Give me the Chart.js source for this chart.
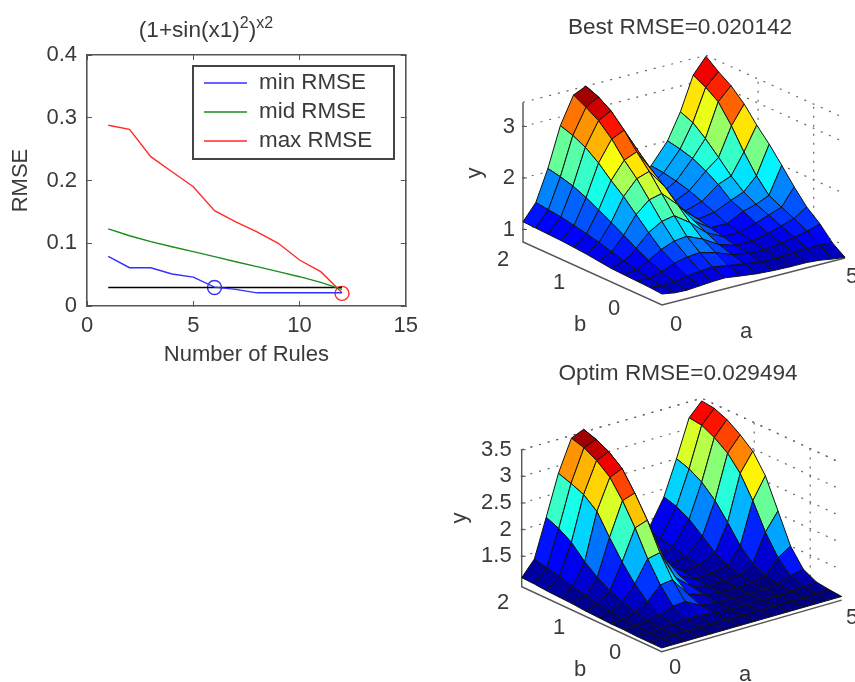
<!DOCTYPE html>
<html>
<head>
<meta charset="utf-8">
<title>RMSE surfaces</title>
<script src="https://cdn.jsdelivr.net/npm/chart.js@4"></script>
<style>
  html, body { margin: 0; padding: 0; background: #fff; }
  #page { position: relative; width: 855px; height: 682px; overflow: hidden; filter: blur(0.6px); }
  canvas { position: absolute; }
  .title { position: absolute; font: 22.6px "Liberation Sans", Arial, sans-serif; color: #3a3a3a; white-space: nowrap; transform: translateX(-50%); }
  .title sup { font-size: 16px; line-height: 0; vertical-align: 9px; }
</style>
</head>
<body>
<div id="page">
  <div class="title" style="left:206px;top:17px">(1+sin(x1)<sup>2</sup>)<sup>x2</sup></div>
  <div class="title" style="left:680px;top:14px">Best RMSE=0.020142</div>
  <div class="title" style="left:678px;top:360px">Optim RMSE=0.029494</div>
  <canvas id="rmseChart" width="430" height="370" style="left:0;top:0"></canvas>
  <canvas id="bestChart" width="415" height="320" style="left:440px;top:40px"></canvas>
  <canvas id="optimChart" width="415" height="297" style="left:440px;top:385px"></canvas>
</div>
<script>
// left plot
var ruleCounts = [1, 2, 3, 4, 5, 6, 7, 8, 9, 10, 11, 12];
var minRmse = [0.079, 0.061, 0.061, 0.051, 0.046, 0.030, 0.0265, 0.021, 0.021, 0.021, 0.021, 0.021];
var midRmse = [0.123, 0.112, 0.1025, 0.0945, 0.0866, 0.0786, 0.0706, 0.0627, 0.0547, 0.0467, 0.0377, 0.0266];
var maxRmse = [0.288, 0.2815, 0.238, 0.214, 0.19, 0.152, 0.134, 0.118, 0.0999, 0.0733, 0.0547, 0.0212];
var optimRmse = 0.0295;
var optimRule = 6;
var bestRmse = 0.0201;
var bestRule = 12;
var legendNames = ["min RMSE", "mid RMSE", "max RMSE"];

// surface grids, one row per b value
var gridA = [0, 0.35, 0.68, 1.02, 1.38, 1.72, 2.15, 2.6, 3.05, 3.5, 3.95, 4.3, 4.65, 5];
var gridB = [0, 0.18, 0.36, 0.55, 0.73, 0.91, 1.09, 1.27, 1.45, 1.64, 1.82, 2];

var bestSurface = [
    [0.97, 0.93, 0.92, 0.94, 0.96, 0.97, 0.93, 0.89, 0.87, 0.86, 0.86, 0.84, 0.80, 0.77],
    [0.99, 0.95, 0.97, 1.02, 1.05, 1.07, 1.02, 0.97, 0.93, 0.92, 0.94, 0.96, 0.96, 0.94],
    [1.00, 0.99, 1.06, 1.16, 1.22, 1.24, 1.16, 1.04, 0.98, 0.97, 1.02, 1.07, 1.12, 1.20],
    [1.01, 1.04, 1.16, 1.31, 1.41, 1.44, 1.31, 1.12, 1.02, 1.02, 1.09, 1.17, 1.25, 1.41],
    [1.02, 1.10, 1.29, 1.53, 1.68, 1.73, 1.52, 1.24, 1.08, 1.08, 1.18, 1.27, 1.36, 1.69],
    [1.05, 1.17, 1.43, 1.77, 1.99, 2.05, 1.76, 1.36, 1.14, 1.14, 1.30, 1.37, 1.48, 2.00],
    [1.08, 1.24, 1.57, 2.01, 2.29, 2.37, 1.99, 1.48, 1.20, 1.25, 1.40, 1.50, 1.75, 2.30],
    [1.10, 1.30, 1.70, 2.21, 2.54, 2.64, 2.19, 1.58, 1.25, 1.35, 1.60, 1.70, 2.10, 2.56],
    [1.12, 1.35, 1.83, 2.44, 2.84, 2.95, 2.42, 1.70, 1.30, 1.45, 1.75, 1.95, 2.50, 2.86],
    [1.13, 1.40, 1.94, 2.63, 3.08, 3.21, 2.61, 1.79, 1.34, 1.52, 1.88, 2.20, 2.85, 3.10],
    [1.14, 1.43, 2.01, 2.75, 3.23, 3.37, 2.73, 1.85, 1.37, 1.57, 1.95, 2.40, 3.02, 3.26],
    [1.15, 1.46, 2.06, 2.83, 3.36, 3.47, 2.80, 1.89, 1.39, 1.60, 2.00, 2.50, 3.15, 3.45]
];

var optimSurface = [
    [1.00, 1.00, 1.00, 1.00, 1.00, 1.00, 1.00, 1.00, 1.00, 1.00, 1.00, 1.00, 1.00, 1.00],
    [1.00, 1.00, 1.00, 1.01, 1.01, 1.01, 1.00, 1.00, 1.00, 1.00, 1.00, 1.00, 1.01, 1.02],
    [1.00, 1.00, 1.01, 1.03, 1.05, 1.05, 1.02, 1.00, 1.00, 1.00, 1.00, 1.01, 1.04, 1.05],
    [1.01, 1.01, 1.04, 1.08, 1.18, 1.20, 1.05, 1.02, 1.01, 1.00, 1.01, 1.03, 1.12, 1.18],
    [1.01, 1.03, 1.10, 1.22, 1.47, 1.50, 1.15, 1.05, 1.01, 1.01, 1.02, 1.08, 1.35, 1.50],
    [1.02, 1.05, 1.18, 1.45, 1.85, 1.90, 1.35, 1.10, 1.02, 1.03, 1.05, 1.20, 1.72, 2.05],
    [1.03, 1.09, 1.28, 1.75, 2.32, 2.40, 1.65, 1.20, 1.04, 1.06, 1.12, 1.42, 2.20, 2.60],
    [1.05, 1.14, 1.42, 2.10, 2.72, 2.80, 2.00, 1.33, 1.07, 1.10, 1.25, 1.75, 2.60, 2.95],
    [1.06, 1.20, 1.60, 2.48, 3.05, 3.15, 2.35, 1.50, 1.10, 1.15, 1.45, 2.05, 2.87, 3.15],
    [1.07, 1.28, 1.85, 2.68, 3.25, 3.35, 2.60, 1.65, 1.12, 1.22, 1.65, 2.28, 3.05, 3.32],
    [1.09, 1.33, 2.00, 2.78, 3.38, 3.47, 2.75, 1.75, 1.15, 1.27, 1.78, 2.42, 3.17, 3.42],
    [1.10, 1.38, 2.10, 2.86, 3.45, 3.55, 2.84, 1.82, 1.18, 1.30, 1.85, 2.50, 3.20, 3.45]
];

var bestZTicks = [1, 2, 3];
var optimZTicks = [1.5, 2, 2.5, 3, 3.5];
var wallBTicks = [0.45, 1.25];

var FONT = '"Liberation Sans", Arial, sans-serif';
var TEXT_COLOR = "#3a3a3a";
var AXIS_COLOR = "#555";

Chart.defaults.font.family = FONT;
Chart.defaults.color = TEXT_COLOR;
Chart.defaults.animation = false;
Chart.defaults.devicePixelRatio = 1;

function toPoints(xs, ys) {
    var points = [];
    for (var i = 0; i < xs.length; i++) {
        points.push({x: xs[i], y: ys[i]});
    }
    return points;
}

function lineSet(data, color, label) {
    return {label: label, data: data, showLine: true, borderColor: color, borderWidth: 1.4, pointRadius: 0, tension: 0};
}

function circleSet(x, y, color) {
    return {data: [{x: x, y: y}], pointRadius: 7, pointBorderWidth: 1.4, pointBorderColor: color, pointBackgroundColor: "transparent", clip: false};
}

// the boxed legend inside the axes
var legendBox = {
    id: "legendBox",
    afterDraw: function(chart) {
        var ctx = chart.ctx;
        ctx.save();
        ctx.strokeStyle = "#444";
        ctx.lineWidth = 2;
        ctx.fillStyle = "#fff";
        ctx.fillRect(193, 66, 201, 93);
        ctx.strokeRect(193, 66, 201, 93);
        ctx.font = "22.4px " + FONT;
        ctx.textBaseline = "middle";
        for (var i = 0; i < legendNames.length; i++) {
            var rowY = 83 + i * 29;
            ctx.strokeStyle = chart.data.datasets[i].borderColor;
            ctx.lineWidth = 1.4;
            ctx.beginPath();
            ctx.moveTo(204, rowY);
            ctx.lineTo(247, rowY);
            ctx.stroke();
            ctx.fillStyle = TEXT_COLOR;
            ctx.fillText(legendNames[i], 259, rowY);
        }
        ctx.restore();
    }
};

function boxAxis(position, min, max, step, size, showLabels, titleText, titlePadding, labelPadding) {
    return {
        type: "linear",
        position: position,
        min: min,
        max: max,
        afterFit: function(scale) {
            if (scale.isHorizontal()) {
                scale.height = size;
            } else {
                scale.width = size;
            }
        },
        ticks: {display: showLabels, stepSize: step, padding: labelPadding, maxRotation: 0, font: {size: 22},
            callback: function(v) { return Math.round(v * 10) / 10; }},
        grid: {drawOnChartArea: false, tickLength: -5, tickColor: AXIS_COLOR},
        border: {color: AXIS_COLOR, width: 1.6},
        title: {display: !!titleText, text: titleText, font: {size: 22}, padding: titlePadding}
    };
}

new Chart(document.getElementById("rmseChart"), {
    type: "scatter",
    data: {
        datasets: [
            lineSet(toPoints(ruleCounts, minRmse), "#3030ff", legendNames[0]),
            lineSet(toPoints(ruleCounts, midRmse), "#1c8c1c", legendNames[1]),
            lineSet(toPoints(ruleCounts, maxRmse), "#ff2a2a", legendNames[2]),
            lineSet([{x: ruleCounts[0], y: optimRmse}, {x: bestRule, y: optimRmse}], "#000", "optim"),
            circleSet(optimRule, optimRmse, "#3030ff"),
            circleSet(bestRule, bestRmse, "#ff2a2a")
        ]
    },
    options: {
        responsive: false,
        layout: {padding: 0},
        plugins: {legend: {display: false}, tooltip: {enabled: false}},
        scales: {
            x: boxAxis("bottom", 0, 15, 5, 64, true, "Number of Rules", {top: 0, bottom: 2}, 12),
            y: boxAxis("left", 0, 0.4, 0.1, 87, true, "RMSE", {top: 8, bottom: 0}, 15),
            x2: boxAxis("top", 0, 15, 5, 55, false),
            y2: boxAxis("right", 0, 0.4, 0.1, 24, false)
        }
    },
    plugins: [legendBox]
});

function jet(t) {
    // matlab jet, 64 levels
    t = Math.floor(Math.min(Math.max(t, 0), 1) * 63.99) / 63;
    function ramp(v) { return Math.round(255 * Math.min(Math.max(1.5 - Math.abs(4 * t - v), 0), 1)); }
    return "rgb(" + ramp(3) + "," + ramp(2) + "," + ramp(1) + ")";
}

// view: where the three box edges of a plot land on its canvas
function makeView(view) {
    return function(a, b, z) {
        return {
            x: view.originX + a * view.aX + b * view.bX,
            y: view.originY + a * view.aY + b * view.bY + (z - view.floorZ) * view.zScale
        };
    };
}

function surfaceSets(surface, project, colorMin, colorMax) {
    var sets = [];
    // first dataset is painted last, so the front corner goes first
    for (var i = 0; i < gridA.length - 1; i++) {
        for (var j = 0; j < gridB.length - 1; j++) {
            sets.push({
                data: [
                    project(gridA[i], gridB[j], surface[j][i]),
                    project(gridA[i + 1], gridB[j], surface[j][i + 1]),
                    project(gridA[i + 1], gridB[j + 1], surface[j + 1][i + 1]),
                    project(gridA[i], gridB[j + 1], surface[j + 1][i]),
                    project(gridA[i], gridB[j], surface[j][i])
                ],
                showLine: true,
                fill: "shape",
                backgroundColor: jet((surface[j + 1][i] - colorMin) / (colorMax - colorMin)),
                borderColor: "#111",
                borderWidth: 1,
                pointRadius: 0,
                tension: 0,
                clip: false
            });
        }
    }
    return sets;
}

function wallSets(project, zTicks, floorZ, topZ) {
    var sets = [];
    var levels = zTicks.concat([topZ]);
    function dotted(points) {
        sets.push({data: points, showLine: true, borderColor: "#666", borderWidth: 1.2, borderDash: [2, 7], pointRadius: 0, clip: false});
    }
    for (var k = 0; k < levels.length; k++) {
        dotted([project(0, 2, levels[k]), project(5, 2, levels[k]), project(5, 0, levels[k])]);
    }
    for (var m = 0; m < wallBTicks.length; m++) {
        dotted([project(5, wallBTicks[m], floorZ), project(5, wallBTicks[m], topZ)]);
    }
    return sets;
}

function frameSets(project, floorZ, topZ) {
    function solid(points) {
        return {data: points, showLine: true, borderColor: AXIS_COLOR, borderWidth: 1.4, pointRadius: 0, clip: false};
    }
    return [
        solid([project(0, 2, topZ), project(0, 2, floorZ), project(0, 0, floorZ), project(5, 0, floorZ)])
    ];
}

function axisLabels(cfg) {
    return {
        id: "axisLabels",
        afterDraw: function(chart) {
            var ctx = chart.ctx;
            var xs = chart.scales.x;
            var ys = chart.scales.y;
            ctx.save();
            ctx.fillStyle = TEXT_COLOR;
            ctx.font = "22px " + FONT;
            ctx.textBaseline = "middle";
            ctx.textAlign = "right";
            ctx.strokeStyle = AXIS_COLOR;
            ctx.lineWidth = 1;
            cfg.zTicks.forEach(function(tick) {
                var p = cfg.project(0, 2, tick);
                var px = xs.getPixelForValue(p.x);
                var py = ys.getPixelForValue(p.y);
                ctx.beginPath();
                ctx.moveTo(px - 1, py);
                ctx.lineTo(px + 4, py);
                ctx.stroke();
                ctx.fillText(String(tick), px - cfg.zGap, py);
            });
            ctx.textAlign = "center";
            cfg.labels.forEach(function(item) {
                ctx.fillText(item[0], item[1], item[2]);
            });
            ctx.translate(cfg.zTitle[0], cfg.zTitle[1]);
            ctx.rotate(-Math.PI / 2);
            ctx.fillText("y", 0, 0);
            ctx.restore();
        }
    };
}

function surfaceChart(id, surface, view, zTicks, topZ, colorMin, colorMax, labels, zTitle, zGap) {
    var canvas = document.getElementById(id);
    var project = makeView(view);
    var sets = surfaceSets(surface, project, colorMin, colorMax)
        .concat(frameSets(project, view.floorZ, topZ))
        .concat(wallSets(project, zTicks, view.floorZ, topZ));
    new Chart(canvas, {
        type: "scatter",
        data: {datasets: sets},
        options: {
            responsive: false,
            layout: {padding: 0},
            plugins: {legend: {display: false}, tooltip: {enabled: false}, filler: {drawTime: "beforeDatasetDraw"}},
            scales: {
                x: {type: "linear", display: false, min: 0, max: canvas.width},
                y: {type: "linear", display: false, min: 0, max: canvas.height}
            }
        },
        plugins: [axisLabels({project: project, zTicks: zTicks, labels: labels, zTitle: zTitle, zGap: zGap})]
    });
}

surfaceChart("bestChart", bestSurface,
    {originX: 222, originY: 55, aX: 36.6, aY: 9.4, bX: -69.5, bY: 31.5, floorZ: 0.757, zScale: 51.5},
    bestZTicks, 3.47, 0.77, 3.47,
    [["0", 236, 285], ["5", 412, 237], ["a", 306, 292], ["2", 63, 220], ["1", 119, 243], ["0", 174, 269], ["b", 140, 285]],
    [35, 133], 8);

surfaceChart("optimChart", optimSurface,
    {originX: 221.7, originY: 30.3, aX: 36, aY: 10.3, bX: -70, bY: 32.5, floorZ: 0.93, zScale: 53.3},
    optimZTicks, 3.5, 0.98, 3.55,
    [["0", 235, 283], ["5", 412, 233], ["a", 305, 290], ["2", 63, 218], ["1", 119, 243], ["0", 175, 268], ["b", 140, 285]],
    [20, 133], 10);
</script>
</body>
</html>
